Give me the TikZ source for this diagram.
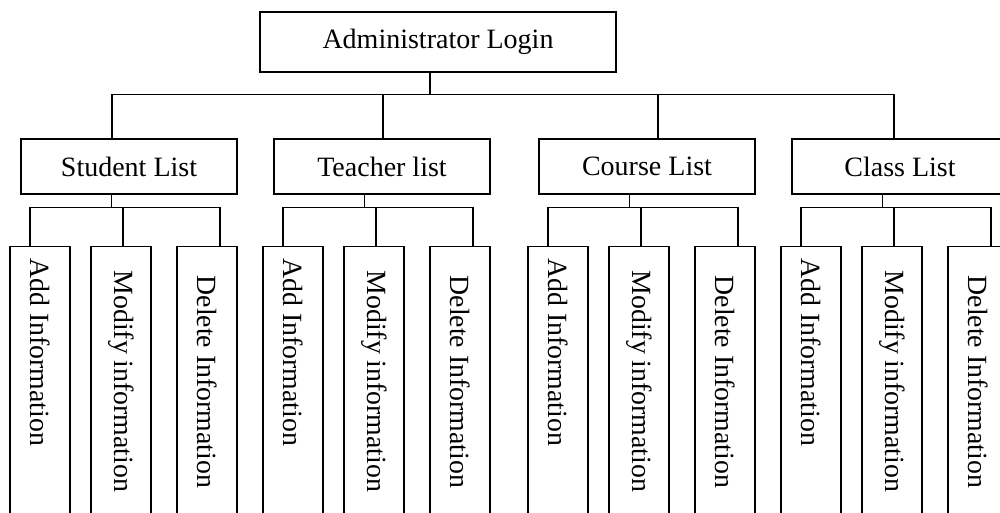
\documentclass[tikz,border=0pt]{standalone}
\usepackage{fontspec}
\setmainfont{Liberation Serif}
\begin{document}
\begin{tikzpicture}[x=0.5pt,y=-0.5pt,line width=0.6pt,
	box/.style={draw,rectangle,inner sep=0pt,font=\fontsize{14}{16}\selectfont},
	leaf/.style={draw,rectangle,inner sep=0pt,minimum width=30pt,minimum height=150pt,anchor=north},
	leaftext/.style={rotate=-90,anchor=west,inner sep=0pt,font=\fontsize{13.9}{16}\selectfont}]
	\useasboundingbox (0,0) rectangle (1000,513);
	\clip (0,0) rectangle (1000,513);
	\node[box,minimum width=178pt,minimum height=30pt] (admin) at (438,42) {Administrator Login};
	\foreach \g/\gx/\gs/\txt in {s/129/-17/Student List,t/382/1/Teacher list,c/647/11/Course List,k/900/-6/Class List} {
		\node[box,minimum width=108pt,minimum height=27.5pt] (\g) at (\gx,166.5) {\txt};
		\draw ([shift={(-8,0)}]admin.south) -- ++(0,22) -| ([shift={(\gs,0)}]\g.north);
		\foreach \i/\dx/\ls/\off/\lbl in {1/-89/-10/12/Add Information,2/-8/2/24/Modify information,3/78/13/29/Delete Information} {
			\node[leaf] (\g\i) at (\gx+\dx,246) {};
			\node[leaftext] (lbl\g\i) at ([shift={(0,\off)}]\g\i.north) {\lbl};
			\draw ([shift={(-17.5,0)}]\g.south) -- ++(0,13) -| ([shift={(\ls,0)}]\g\i.north);
		}
	}
\end{tikzpicture}
\end{document}
